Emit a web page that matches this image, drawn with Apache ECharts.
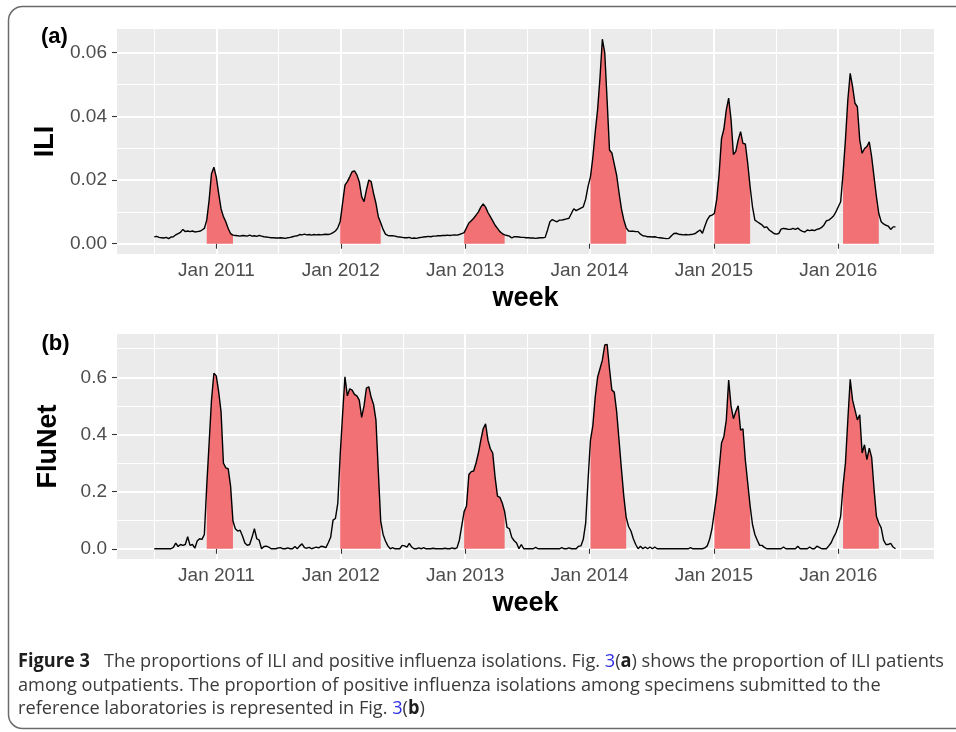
<!DOCTYPE html>
<html>
<head>
<meta charset="utf-8">
<script src="https://cdn.jsdelivr.net/npm/echarts@6/dist/echarts.min.js"></script>
<style>
  html, body { margin: 0; padding: 0; background: #ffffff; }
  #chart { width: 956px; height: 732px; }
</style>
</head>
<body>
<div id="chart"></div>
<script>
// Weekly series, first week at mid-2010 (decimal years on the x axis)
const weekStart = 2010.5;
const weekStep = 7 / 365.25;

// (a) proportion of ILI patients among outpatients, one value per week
const iliValues = [
  0.0022, 0.0023, 0.0020, 0.0019, 0.0018, 0.0020, 0.0016, 0.0021, 0.0022, 0.0028,
  0.0032, 0.0036, 0.0045, 0.0038, 0.0040, 0.0038, 0.0040, 0.0037, 0.0038, 0.0039,
  0.0043, 0.0048, 0.0074, 0.0137, 0.0220, 0.0240, 0.0210, 0.0158, 0.0110, 0.0085,
  0.0069, 0.0048, 0.0032, 0.0027, 0.0026, 0.0025, 0.0024, 0.0026, 0.0025, 0.0024,
  0.0027, 0.0024, 0.0025, 0.0023, 0.0026, 0.0024, 0.0022, 0.0021, 0.0020, 0.0019,
  0.0019, 0.0018, 0.0018, 0.0019, 0.0018, 0.0017, 0.0019, 0.0020, 0.0022, 0.0024,
  0.0025, 0.0029, 0.0028, 0.0030, 0.0028, 0.0029, 0.0027, 0.0029, 0.0028, 0.0029,
  0.0028, 0.0029, 0.0030, 0.0029, 0.0031, 0.0035, 0.0040, 0.0050, 0.0070, 0.0127,
  0.0184, 0.0195, 0.0210, 0.0226, 0.0229, 0.0216, 0.0195, 0.0148, 0.0132, 0.0169,
  0.0200, 0.0195, 0.0158, 0.0127, 0.0085, 0.0066, 0.0045, 0.0030, 0.0026, 0.0025,
  0.0025, 0.0024, 0.0022, 0.0021, 0.0020, 0.0019, 0.0019, 0.0020, 0.0017, 0.0018,
  0.0017, 0.0019, 0.0020, 0.0021, 0.0022, 0.0023, 0.0022, 0.0024, 0.0024, 0.0025,
  0.0025, 0.0026, 0.0026, 0.0027, 0.0026, 0.0027, 0.0028, 0.0027, 0.0029, 0.0032,
  0.0035, 0.0050, 0.0065, 0.0072, 0.0080, 0.0090, 0.0100, 0.0115, 0.0125, 0.0115,
  0.0098, 0.0085, 0.0072, 0.0058, 0.0048, 0.0038, 0.0032, 0.0028, 0.0026, 0.0024,
  0.0018, 0.0022, 0.0022, 0.0021, 0.0020, 0.0020, 0.0019, 0.0019, 0.0018, 0.0018,
  0.0017, 0.0018, 0.0019, 0.0019, 0.0020, 0.0043, 0.0069, 0.0076, 0.0072, 0.0069,
  0.0074, 0.0074, 0.0076, 0.0078, 0.0080, 0.0095, 0.0110, 0.0104, 0.0108, 0.0112,
  0.0116, 0.0140, 0.0180, 0.0210, 0.0270, 0.0350, 0.0420, 0.0520, 0.0642, 0.0600,
  0.0450, 0.0294, 0.0285, 0.0250, 0.0215, 0.0160, 0.0110, 0.0075, 0.0050, 0.0040,
  0.0039, 0.0039, 0.0038, 0.0038, 0.0030, 0.0025, 0.0024, 0.0022, 0.0022, 0.0021,
  0.0022, 0.0020, 0.0019, 0.0018, 0.0017, 0.0016, 0.0017, 0.0025, 0.0032, 0.0033,
  0.0030, 0.0029, 0.0028, 0.0029, 0.0028, 0.0029, 0.0030, 0.0032, 0.0038, 0.0043,
  0.0033, 0.0055, 0.0075, 0.0087, 0.0090, 0.0095, 0.0140, 0.0220, 0.0330, 0.0360,
  0.0420, 0.0457, 0.0390, 0.0280, 0.0290, 0.0326, 0.0352, 0.0315, 0.0313, 0.0252,
  0.0179, 0.0116, 0.0074, 0.0069, 0.0064, 0.0059, 0.0051, 0.0053, 0.0043, 0.0038,
  0.0032, 0.0030, 0.0032, 0.0046, 0.0048, 0.0047, 0.0045, 0.0045, 0.0048, 0.0045,
  0.0049, 0.0043, 0.0039, 0.0037, 0.0043, 0.0041, 0.0043, 0.0041, 0.0045, 0.0047,
  0.0051, 0.0059, 0.0072, 0.0074, 0.0080, 0.0087, 0.0100, 0.0116, 0.0132, 0.0221,
  0.0326, 0.0451, 0.0535, 0.0493, 0.0441, 0.0430, 0.0326, 0.0284, 0.0299, 0.0305,
  0.0320, 0.0273, 0.0210, 0.0148, 0.0095, 0.0069, 0.0062, 0.0058, 0.0055, 0.0045,
  0.0053, 0.0053
];

// (b) proportion of positive influenza isolations (FluNet), one value per week
const fluNetValues = [
  0, 0, 0, 0, 0, 0, 0, 0, 0.005, 0.020,
  0.008, 0.015, 0.012, 0.015, 0.042, 0.012, 0.015, 0.002, 0.027, 0.035,
  0.033, 0.050, 0.220, 0.370, 0.520, 0.614, 0.605, 0.550, 0.480, 0.300,
  0.283, 0.280, 0.220, 0.097, 0.070, 0.062, 0.065, 0.045, 0.020, 0.012,
  0.015, 0.040, 0.070, 0.035, 0.030, 0.000, 0.008, 0.009, 0.006, 0.000,
  0, 0, 0.003, 0.004, 0, 0, 0.003, 0, 0, 0.008,
  0, 0.010, 0.017, 0.004, 0.002, 0.005, 0, 0.003, 0.006, 0.003,
  0.009, 0.007, 0.004, 0.021, 0.040, 0.100, 0.106, 0.160, 0.330, 0.470,
  0.602, 0.535, 0.560, 0.555, 0.540, 0.535, 0.520, 0.460, 0.500, 0.562,
  0.567, 0.530, 0.505, 0.450, 0.270, 0.097, 0.050, 0.027, 0.010, 0,
  0.004, 0, 0, 0, 0.012, 0.010, 0.006, 0.019, 0.006, 0,
  0, 0.003, 0, 0.004, 0, 0, 0, 0.002, 0, 0,
  0, 0, 0.002, 0, 0, 0.003, 0, 0.003, 0.030, 0.080,
  0.130, 0.150, 0.260, 0.270, 0.272, 0.300, 0.335, 0.380, 0.420, 0.437,
  0.380, 0.350, 0.335, 0.250, 0.184, 0.180, 0.160, 0.130, 0.075, 0.070,
  0.040, 0.028, 0.020, 0, 0.015, 0, 0, 0, 0, 0,
  0.005, 0, 0, 0, 0, 0, 0, 0, 0, 0,
  0, 0.004, 0, 0, 0.003, 0, 0, 0, 0.009, 0.010,
  0.033, 0.090, 0.240, 0.380, 0.430, 0.530, 0.600, 0.630, 0.660, 0.713,
  0.715, 0.630, 0.555, 0.548, 0.480, 0.380, 0.280, 0.184, 0.110, 0.078,
  0.062, 0.035, 0.015, 0, 0.009, 0, 0.006, 0, 0.006, 0,
  0.006, 0, 0, 0, 0, 0, 0, 0, 0, 0,
  0, 0, 0, 0, 0, 0.004, 0, 0, 0, 0,
  0, 0.003, 0.010, 0.033, 0.070, 0.130, 0.190, 0.280, 0.370, 0.393,
  0.450, 0.590, 0.500, 0.455, 0.480, 0.500, 0.415, 0.420, 0.310, 0.230,
  0.150, 0.085, 0.050, 0.030, 0.012, 0.012, 0.005, 0, 0, 0,
  0, 0, 0, 0, 0.006, 0, 0, 0, 0, 0,
  0.009, 0, 0, 0, 0, 0.006, 0, 0, 0.009, 0.005,
  0, 0, 0, 0.010, 0.021, 0.040, 0.056, 0.080, 0.114, 0.220,
  0.300, 0.450, 0.593, 0.520, 0.486, 0.451, 0.469, 0.335, 0.364, 0.312,
  0.352, 0.320, 0.210, 0.114, 0.090, 0.073, 0.030, 0.015, 0.015, 0.019,
  0.006, 0
];

// Influenza seasons (first and last week index), shaded in both panels
const seasons = [[22, 33], [78, 95], [130, 147], [183, 198], [235, 250], [289, 304]];

// Axis ticks and labels
const xTickValues = [2011, 2012, 2013, 2014, 2015, 2016];
const xTickLabels = ['Jan 2011', 'Jan 2012', 'Jan 2013', 'Jan 2014', 'Jan 2015', 'Jan 2016'];
const xMinorValues = [2010.5, 2011.5, 2012.5, 2013.5, 2014.5, 2015.5, 2016.5];
const xRange = [2010.2, 2016.77];

const iliTickValues = [0, 0.02, 0.04, 0.06];
const iliTickLabels = ['0.00', '0.02', '0.04', '0.06'];
const iliMinorValues = [0.01, 0.03, 0.05];
const iliRange = [-0.00322, 0.0674];

const fluTickValues = [0, 0.2, 0.4, 0.6];
const fluTickLabels = ['0.0', '0.2', '0.4', '0.6'];
const fluMinorValues = [0.1, 0.3, 0.5, 0.7];
const fluRange = [-0.0358, 0.7515];

const sansFont = '"Liberation Sans", Arial, sans-serif';
const captionFont = '"Open Sans", "Noto Sans", sans-serif';

function weekX(i) { return weekStart + i * weekStep; }
function inSeason(i) { return seasons.some(s => i >= s[0] && i <= s[1]); }
function lookupLabel(values, labels) {
  return function (v) {
    for (let k = 0; k < values.length; k++) {
      if (Math.abs(values[k] - v) < 1e-9) return labels[k];
    }
    return '';
  };
}

const lineData = vals => vals.map((v, i) => [weekX(i), v]);
const fillData = vals => vals.map((v, i) => [weekX(i), inSeason(i) ? v : '-']);

// Major axis (ticks, labels, thick grid lines) + minor axis (thin grid lines only)
function xAxes(gridIndex) {
  return [
    {
      gridIndex, type: 'value', min: xRange[0], max: xRange[1],
      axisLine: { show: false },
      axisTick: { show: true, customValues: xTickValues, length: 5, lineStyle: { color: '#333333', width: 1.1 } },
      axisLabel: { customValues: xTickValues, formatter: lookupLabel(xTickValues, xTickLabels),
                   color: '#4D4D4D', fontSize: 19, fontFamily: sansFont, margin: 7 },
      splitLine: { show: true, lineStyle: { color: '#FFFFFF', width: 2 } },
      name: 'week', nameLocation: 'middle', nameGap: 31,
      nameTextStyle: { color: '#000000', fontSize: 27, fontWeight: 'bold', fontFamily: sansFont }
    },
    {
      gridIndex, type: 'value', min: xRange[0], max: xRange[1],
      axisLine: { show: false },
      axisTick: { show: false, customValues: xMinorValues },
      axisLabel: { show: false, customValues: xMinorValues },
      splitLine: { show: true, lineStyle: { color: '#FFFFFF', width: 1 } }
    }
  ];
}

function yAxes(gridIndex, range, ticks, labels, minor, title) {
  return [
    {
      gridIndex, type: 'value', min: range[0], max: range[1],
      axisLine: { show: false },
      axisTick: { show: true, customValues: ticks, length: 5, lineStyle: { color: '#333333', width: 1.1 } },
      axisLabel: { customValues: ticks, formatter: lookupLabel(ticks, labels),
                   color: '#4D4D4D', fontSize: 19, fontFamily: sansFont, margin: 10 },
      splitLine: { show: true, lineStyle: { color: '#FFFFFF', width: 2 } },
      name: title, nameLocation: 'middle', nameGap: 55,
      nameTextStyle: { color: '#000000', fontSize: 27, fontWeight: 'bold', fontFamily: sansFont }
    },
    {
      gridIndex, type: 'value', min: range[0], max: range[1],
      axisLine: { show: false },
      axisTick: { show: false, customValues: minor },
      axisLabel: { show: false, customValues: minor },
      splitLine: { show: true, lineStyle: { color: '#FFFFFF', width: 1 } }
    }
  ];
}

function panelSeries(values, axisIndex) {
  return [
    {
      type: 'line', xAxisIndex: axisIndex, yAxisIndex: axisIndex,
      data: fillData(values), symbol: 'none', connectNulls: false, silent: true,
      lineStyle: { width: 0, opacity: 0 },
      areaStyle: { color: '#F17174', opacity: 1 }, z: 2
    },
    {
      type: 'line', xAxisIndex: axisIndex, yAxisIndex: axisIndex,
      data: lineData(values), symbol: 'none', silent: true,
      lineStyle: { color: '#000000', width: 1.4 }, z: 3
    }
  ];
}

// Caption lines as rich-text segments
const captionLines = [
  [['fig', 'Figure 3'], ['n', '   The proportions of ILI and positive influenza isolations. Fig. '], ['link', '3'],
   ['n', '('], ['b', 'a'], ['n', ') shows the proportion of ILI patients']],
  [['n', 'among outpatients. The proportion of positive influenza isolations among specimens submitted to the']],
  [['n', 'reference laboratories is represented in Fig. '], ['link', '3'], ['n', '('], ['b', 'b'], ['n', ')']]
];
const captionSize = 19;
const captionStyles = {
  n: { fontSize: captionSize, fontFamily: captionFont, fill: '#3A3A3A', fontWeight: 'normal' },
  fig: { fontSize: captionSize, fontFamily: captionFont, fill: '#1E1E1E', fontWeight: 'bold' },
  b: { fontSize: captionSize, fontFamily: captionFont, fill: '#1E1E1E', fontWeight: 'bold' },
  link: { fontSize: captionSize, fontFamily: captionFont, fill: '#2E2EE6', fontWeight: 'normal' }
};

// Horizontal scale so the first caption line spans its column
const measureCtx = document.createElement('canvas').getContext('2d');
function lineWidth(segments) {
  let w = 0;
  segments.forEach(([k, t]) => {
    const st = captionStyles[k];
    measureCtx.font = (st.fontWeight === 'bold' ? 'bold ' : '') + st.fontSize + 'px ' + st.fontFamily;
    w += measureCtx.measureText(t).width;
  });
  return w;
}
const captionScale = 926 / lineWidth(captionLines[0]);

const captionY = [662, 685.5, 709];
const captionGraphics = captionLines.map((segs, idx) => ({
  type: 'text', x: 18, y: captionY[idx], scaleX: captionScale, silent: true,
  style: {
    text: segs.map(([k, t]) => '{' + k + '|' + t + '}').join(''),
    rich: captionStyles, verticalAlign: 'middle', align: 'left'
  }
}));

const chart = echarts.init(document.getElementById('chart'), null, { renderer: 'canvas' });
chart.setOption({
  animation: false,
  backgroundColor: '#FFFFFF',
  grid: [
    { left: 117, top: 29, width: 817, height: 225, show: true, backgroundColor: '#EBEBEB', borderWidth: 0 },
    { left: 117, top: 334, width: 817, height: 225, show: true, backgroundColor: '#EBEBEB', borderWidth: 0 }
  ],
  xAxis: [...xAxes(0), ...xAxes(1)],
  yAxis: [
    ...yAxes(0, iliRange, iliTickValues, iliTickLabels, iliMinorValues, 'ILI'),
    ...yAxes(1, fluRange, fluTickValues, fluTickLabels, fluMinorValues, 'FluNet')
  ],
  series: [...panelSeries(iliValues, 0), ...panelSeries(fluNetValues, 2)],
  graphic: [
    {
      type: 'rect', silent: true, z: -1,
      shape: { x: 8.5, y: 6.5, width: 1000, height: 722, r: 14 },
      style: { fill: 'none', stroke: '#6B6B6B', lineWidth: 1.5 }
    },
    {
      type: 'text', x: 41, y: 37, silent: true,
      style: { text: '(a)', fontSize: 22, fontWeight: 'bold', fontFamily: sansFont, fill: '#000000', verticalAlign: 'middle' }
    },
    {
      type: 'text', x: 41.5, y: 344, silent: true,
      style: { text: '(b)', fontSize: 22, fontWeight: 'bold', fontFamily: sansFont, fill: '#000000', verticalAlign: 'middle' }
    },
    ...captionGraphics
  ]
});
</script>
</body>
</html>
